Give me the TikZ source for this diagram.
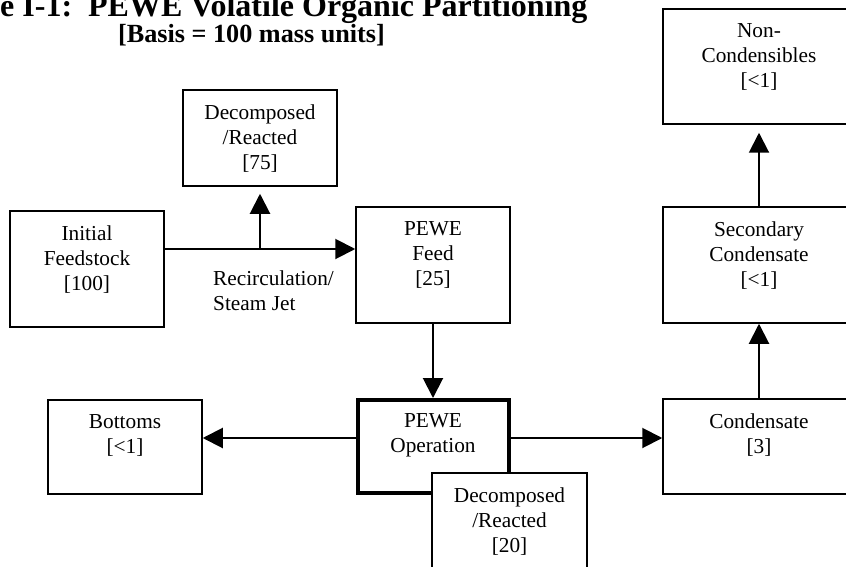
\documentclass[tikz,border=0pt]{standalone}
\usepackage{fontspec}
\setmainfont{Liberation Serif}
\usetikzlibrary{arrows.meta,positioning}

\begin{document}
\begin{tikzpicture}[x=1pt, y=-1pt]
% Styles
\tikzset{
    blk/.style={draw, line width=1.5pt, fill=white, inner sep=0pt, minimum width=154pt, minimum height=116pt},
    lbl/.style={anchor=north, align=center, inner xsep=0pt, inner ysep=15.5pt, font=\fontsize{21.3}{25}\selectfont},
    flow/.style={line width=2pt, -{Triangle[length=20pt, width=20pt]}},
    ttl/.style={inner sep=0pt}
}
\useasboundingbox (0, 0) rectangle (846, 567);
\clip (0, 0) rectangle (846, 567);

% Title
\node[ttl, font=\bfseries\fontsize{32}{36}\selectfont, anchor=base west] (TT) at (0, 17) {e I-1:\ \ PEWE Volatile Organic Partitioning};
\node[ttl, font=\bfseries\fontsize{26.2}{30}\selectfont, anchor=base] (ST) at (251.5, 43) {[Basis = 100 mass units]};

% Nodes
\node[blk, label={[lbl]north:{Initial\\Feedstock\\{[100]}}}] (FS) at (87, 269) {};
\node[blk, minimum height=96pt, label={[lbl]north:{Decomposed\\/Reacted\\{[75]}}}] (DR1) at (260, 138) {};
\node[blk, label={[lbl]north:{PEWE\\Feed\\{[25]}}}] (PF) at (433, 265) {};
\node[blk, line width=4pt, minimum width=151pt, minimum height=93pt, label={[lbl]north:{PEWE\\Operation}}] (PO) at (433, 446.5) {};
\node[blk, minimum width=155pt, minimum height=117pt, label={[lbl]north:{Decomposed\\/Reacted\\{[20]}}}] (DR2) at (509.5, 531.5) {};
\node[blk, minimum height=94pt, label={[lbl]north:{Bottoms\\{[<1]}}}] (BT) at (125, 447) {};
\node[blk, minimum width=192pt, minimum height=95pt, label={[lbl]north:{Condensate\\{[3]}}}] (CD) at (759, 446.5) {};
\node[blk, minimum width=192pt, label={[lbl]north:{Secondary\\Condensate\\{[<1]}}}] (SC) at (759, 265) {};
\node[blk, minimum width=192pt, minimum height=115pt, label={[lbl]north:{Non-\\Condensibles\\{[<1]}}}] (NC) at (759, 66.5) {};
\node[lbl, anchor=north west, align=left, inner sep=0pt] (RS) at (213, 270.5) {Recirculation/\\Steam Jet};

% Connections
\coordinate (BR) at ([yshift=16pt]PF.west);
\draw[flow] (FS.east |- BR) -- (BR);
\draw[flow, shorten >=7pt] (DR1.south |- BR) -- (DR1.south);
\draw[flow] (PF.south) -- (PO.north);
\coordinate (OL) at ([yshift=8.5pt]PO.west);
\coordinate (OR) at ([yshift=8.5pt]PO.east);
\draw[flow] (OL) -- (BT.east |- OL);
\draw[flow] (OR) -- (CD.west |- OR);
\draw[flow] (CD.north) -- (SC.south);
\draw[flow, shorten >=8pt] (SC.north) -- (NC.south);
\end{tikzpicture}
\end{document}
